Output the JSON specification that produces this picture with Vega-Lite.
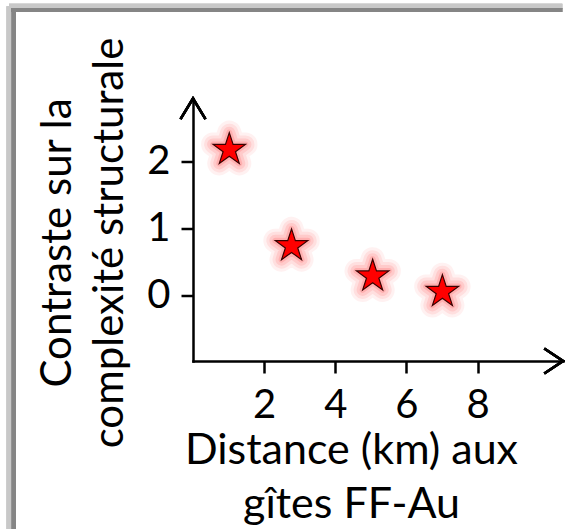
{
  "$schema": "https://vega.github.io/schema/vega-lite/v6.json",
  "autosize": {"type": "none"},
  "width": 370,
  "height": 262.5,
  "padding": {"left": 193, "top": 98.5, "right": 2, "bottom": 168},
  "background": "white",
  "config": {"view": {"stroke": null}},
  "data": {"values": [
    {"distance": 1.02, "contraste": 2.17},
    {"distance": 2.77, "contraste": 0.74},
    {"distance": 5.05, "contraste": 0.29},
    {"distance": 7.01, "contraste": 0.06}
  ]},
  "encoding": {
    "x": {"field": "distance", "type": "quantitative",
      "scale": {"domain": [0, 10.4], "nice": false, "zero": false},
      "axis": {
        "values": [2, 4, 6, 8], "grid": false,
        "domain": true, "domainColor": "black", "domainWidth": 2.5, "domainCap": "square",
        "ticks": true, "tickSize": 12, "tickWidth": 2.5, "tickColor": "black",
        "labelFont": "Lato", "labelFontSize": 40, "labelColor": "black", "labelPadding": 12,
        "title": ["Distance (km) aux", "gîtes FF-Au"],
        "titleFont": "Lato", "titleFontSize": 43, "titleFontWeight": "normal", "titleColor": "black",
        "titleLineHeight": 54, "titleX": 158, "titleY": 102, "titleAlign": "center", "titleBaseline": "alphabetic"
      }},
    "y": {"field": "contraste", "type": "quantitative",
      "scale": {"domain": [-0.97, 2.93], "nice": false, "zero": false},
      "axis": {
        "values": [0, 1, 2], "grid": false,
        "domain": true, "domainColor": "black", "domainWidth": 2.5, "domainCap": "square",
        "ticks": true, "tickSize": 12, "tickWidth": 2.5, "tickColor": "black",
        "labelFont": "Lato", "labelFontSize": 40, "labelColor": "black", "labelPadding": 11,
        "title": ["Contraste sur la", "complexité structurale"],
        "titleFont": "Lato", "titleFontSize": 42, "titleFontWeight": "normal", "titleColor": "black",
        "titleLineHeight": 52, "titleX": -123, "titleY": 144, "titleAngle": 270,
        "titleAlign": "center", "titleBaseline": "alphabetic"
      }}
  },
  "layer": [
    {
      "mark": {"type": "rule", "stroke": "#c8c8c8", "strokeWidth": 5},
      "encoding": {"x": {"datum": -5.17}, "y": {"datum": 4.3}, "y2": {"datum": -3.47}}
    },
    {
      "mark": {"type": "rule", "stroke": "#c8c8c8", "strokeWidth": 5},
      "encoding": {"y": {"datum": 4.3}, "x": {"datum": -5.17}, "x2": {"datum": 10.38}}
    },
    {
      "mark": {"type": "rule", "stroke": "#858585", "strokeWidth": 4},
      "encoding": {"x": {"datum": -5.04}, "y": {"datum": 4.275}, "y2": {"datum": -3.47}}
    },
    {
      "mark": {"type": "rule", "stroke": "#858585", "strokeWidth": 4},
      "encoding": {"y": {"datum": 4.245}, "x": {"datum": -5.1}, "x2": {"datum": 10.38}}
    },
    {
      "mark": {"type": "point", "shape": "M-1.5,-1L0,0L-1.5,1", "size": 625, "filled": false,
        "stroke": "black", "strokeWidth": 2.5, "opacity": 1},
      "encoding": {"x": {"datum": 10.4}, "y": {"datum": -0.97}}
    },
    {
      "mark": {"type": "point", "shape": "M-1,1.65L0,0L1,1.65", "size": 625, "filled": false,
        "stroke": "black", "strokeWidth": 2.5, "opacity": 1},
      "encoding": {"x": {"datum": 0}, "y": {"datum": 2.93}}
    },
    {
      "mark": {"type": "point", "shape": "M0,-1L0.2245,-0.309L0.9511,-0.309L0.3633,0.118L0.5878,0.809L0,0.382L-0.5878,0.809L-0.3633,0.118L-0.9511,-0.309L-0.2245,-0.309Z",
        "size": 1156, "filled": true, "fill": "#ff0000", "stroke": "#ff0000", "strokeWidth": 24, "strokeJoin": "round", "opacity": 0.05}
    },
    {
      "mark": {"type": "point", "shape": "M0,-1L0.2245,-0.309L0.9511,-0.309L0.3633,0.118L0.5878,0.809L0,0.382L-0.5878,0.809L-0.3633,0.118L-0.9511,-0.309L-0.2245,-0.309Z",
        "size": 1156, "filled": true, "fill": "#ff0000", "stroke": "#ff0000", "strokeWidth": 18, "strokeJoin": "round", "opacity": 0.07}
    },
    {
      "mark": {"type": "point", "shape": "M0,-1L0.2245,-0.309L0.9511,-0.309L0.3633,0.118L0.5878,0.809L0,0.382L-0.5878,0.809L-0.3633,0.118L-0.9511,-0.309L-0.2245,-0.309Z",
        "size": 1156, "filled": true, "fill": "#ff0000", "stroke": "#ff0000", "strokeWidth": 12, "strokeJoin": "round", "opacity": 0.09}
    },
    {
      "mark": {"type": "point", "shape": "M0,-1L0.2245,-0.309L0.9511,-0.309L0.3633,0.118L0.5878,0.809L0,0.382L-0.5878,0.809L-0.3633,0.118L-0.9511,-0.309L-0.2245,-0.309Z",
        "size": 1156, "filled": true, "fill": "#ff0000", "stroke": "#ff0000", "strokeWidth": 6, "strokeJoin": "round", "opacity": 0.12}
    },
    {
      "mark": {"type": "point", "shape": "M0,-1L0.2245,-0.309L0.9511,-0.309L0.3633,0.118L0.5878,0.809L0,0.382L-0.5878,0.809L-0.3633,0.118L-0.9511,-0.309L-0.2245,-0.309Z",
        "size": 1156, "filled": true, "fill": "#ff0000", "stroke": "#3a0000", "strokeWidth": 1.2, "opacity": 1}
    }
  ]
}
